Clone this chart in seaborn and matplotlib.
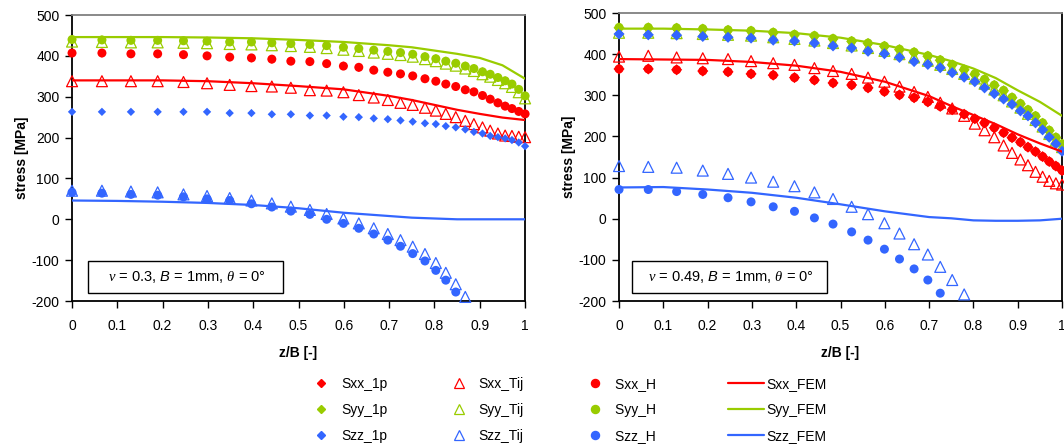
import numpy as np
import matplotlib
matplotlib.use("Agg")
import matplotlib.pyplot as plt
from matplotlib.lines import Line2D
import seaborn as sns

# point positions z/B (same for both panels)
z = [0, 0.066, 0.130, 0.189, 0.246, 0.298, 0.348, 0.396, 0.441, 0.483, 0.525,
     0.562, 0.599, 0.633, 0.666, 0.697, 0.725, 0.752, 0.779, 0.803, 0.825,
     0.847, 0.868, 0.887, 0.906, 0.923, 0.940, 0.956, 0.971, 0.986, 1.0]
fem_z = [0, 0.1, 0.2, 0.3, 0.4, 0.5, 0.6, 0.7, 0.75, 0.8, 0.85, 0.9, 0.95, 1.0]
nan = np.nan

# ---- left panel: nu = 0.3 ----
sxx_1p_l = [406, 406, 405, 404, 402, 400, 397, 394, 391, 388, 385, 381, 376, 371, 366, 360,
            355, 350, 344, 338, 331, 325, 318, 311, 303, 295, 286, 278, 271, 264, 257]
syy_1p_l = [441, 440, 439, 438, 437, 436, 435, 434, 432, 430, 428, 425, 422, 418, 415, 411,
            408, 404, 399, 394, 388, 382, 376, 369, 362, 355, 348, 340, 331, 319, 303]
szz_1p_l = [263, 263, 263, 263, 263, 263, 260, 260, 257, 257, 254, 254, 251, 250, 247, 245,
            242, 239, 235, 233, 228, 225, 220, 214, 210, 204, 201, 198, 194, 188, 179]
sxx_tij_l = [338, 338, 338, 338, 336, 333, 329, 326, 325, 322, 316, 315, 311, 304, 298, 292,
             285, 280, 273, 266, 258, 250, 241, 233, 225, 217, 210, 205, 204, 202, 201]
syy_tij_l = [435, 434, 433, 433, 432, 431, 429, 428, 426, 424, 422, 419, 415, 412, 408, 405,
             402, 398, 392, 387, 381, 376, 369, 363, 355, 349, 341, 333, 324, 311, 296]
szz_tij_l = [70, 70, 68, 66, 61, 57, 52, 46, 39, 31, 23, 13, 2, -10, -22, -36, -51, -67, -85,
             -107, -131, -159, -190, nan, nan, nan, nan, nan, nan, nan, nan]
sxx_h_l = [407, 407, 405, 405, 403, 400, 397, 395, 392, 387, 386, 381, 375, 372, 365, 360,
           356, 351, 344, 338, 331, 325, 317, 312, 303, 294, 285, 277, 271, 264, 258]
syy_h_l = [440, 439, 438, 438, 437, 436, 434, 434, 432, 430, 428, 425, 421, 418, 414, 411,
           408, 404, 398, 393, 387, 382, 375, 369, 361, 355, 347, 339, 331, 318, 302]
szz_h_l = [66, 64, 61, 59, 55, 50, 46, 38, 30, 20, 12, 0, -10, -22, -36, -51, -66, -84, -102,
           -125, -149, -178, nan, nan, nan, nan, nan, nan, nan, nan, nan]
sxx_fem_l = [340, 340, 340, 338, 333, 326, 318, 302, 292, 280, 268, 258, 249, 243]
syy_fem_l = [446, 446, 446, 445, 443, 439, 434, 426, 421, 413, 405, 395, 377, 344]
szz_fem_l = [46, 45, 43, 40, 35, 27, 16, 8, 4, 2, 0, 0, 0, 0]

# ---- right panel: nu = 0.49 ----
sxx_1p_r = [364, 364, 362, 359, 357, 352, 349, 343, 337, 330, 325, 318, 309, 301, 294, 284,
            273, 265, 254, 243, 233, 221, 209, 197, 186, 174, 163, 151, 139, 128, 117]
syy_1p_r = [464, 464, 463, 461, 458, 456, 452, 447, 444, 437, 431, 426, 419, 411, 404, 395,
            385, 374, 362, 351, 338, 324, 311, 294, 279, 264, 249, 232, 214, 197, 181]
szz_1p_r = [449, 447, 446, 443, 441, 439, 434, 432, 427, 420, 415, 407, 401, 392, 382, 375,
            367, 355, 344, 333, 318, 304, 291, 278, 262, 250, 233, 216, 198, 182, 164]
sxx_tij_r = [394, 396, 392, 390, 388, 383, 378, 374, 366, 359, 352, 343, 333, 321, 308, 296,
             282, 268, 250, 231, 215, 198, 178, 160, 144, 130, 114, 102, 92, 86, 83]
syy_tij_r = [452, 452, 451, 449, 447, 445, 441, 437, 433, 427, 421, 415, 408, 400, 392, 384,
             374, 364, 352, 341, 328, 314, 300, 285, 270, 255, 240, 224, 206, 190, 174]
szz_tij_r = [128, 126, 124, 117, 109, 100, 90, 79, 64, 48, 29, 11, -11, -36, -62, -87, -117,
             -149, -184, nan, nan, nan, nan, nan, nan, nan, nan, nan, nan, nan, nan]
sxx_h_r = [364, 364, 362, 359, 357, 352, 349, 343, 337, 330, 325, 318, 309, 301, 294, 284,
           273, 265, 254, 243, 233, 221, 209, 197, 186, 174, 163, 151, 139, 128, 117]
syy_h_r = [465, 465, 464, 462, 459, 457, 453, 448, 445, 438, 432, 427, 420, 412, 405, 396,
           386, 375, 363, 352, 339, 325, 312, 295, 280, 265, 250, 233, 215, 198, 182]
szz_h_r = [71, 71, 66, 59, 51, 41, 29, 18, 2, -13, -32, -52, -74, -98, -122, -149, -181,
           nan, nan, nan, nan, nan, nan, nan, nan, nan, nan, nan, nan, nan, nan]
sxx_fem_r = [388, 387, 386, 381, 372, 357, 333, 298, 274, 252, 230, 205, 183, 163]
syy_fem_r = [462, 462, 460, 457, 451, 440, 422, 398, 383, 365, 342, 312, 284, 250]
szz_fem_r = [76, 77, 71, 63, 51, 35, 18, 4, 1, -4, -5, -5, -4, 0]

red, green, blue = "#FF0000", "#99CC00", "#3366FF"
comps = ["Sxx", "Syy", "Szz"]
cols = [red, green, blue]

sns.set_style("ticks")
plt.rcParams["font.family"] = ["Liberation Sans", "DejaVu Sans"]
plt.rcParams["mathtext.fontset"] = "custom"
plt.rcParams["mathtext.it"] = "Liberation Serif:italic"
plt.rcParams["mathtext.sf"] = "Liberation Sans:italic"
plt.rcParams["mathtext.rm"] = "Liberation Sans"
plt.rcParams["axes.unicode_minus"] = False
plt.rcParams["text.color"] = "black"
plt.rcParams["axes.labelcolor"] = "black"
plt.rcParams["xtick.color"] = "black"
plt.rcParams["ytick.color"] = "black"

fig = plt.figure(figsize=(10.64, 4.47), dpi=100)
ax_l = fig.add_axes([0.0677, 0.3266, 0.4258, 0.6398])
ax_r = fig.add_axes([0.5818, 0.3266, 0.4164, 0.6443])


def draw_panel(ax, p1, tij, hh, fem, dsize, label):
    for c, y in zip(cols, tij):
        sns.scatterplot(x=z, y=y, ax=ax, marker="^", s=62, color=c, facecolor="none",
                        edgecolor=c, linewidth=0.9, clip_on=False, zorder=3)
    for c, y in zip(cols, hh):
        sns.scatterplot(x=z, y=y, ax=ax, marker="o", s=42, color=c, edgecolor="none",
                        clip_on=False, zorder=4)
    for c, y in zip(cols, p1):
        sns.scatterplot(x=z, y=y, ax=ax, marker="D", s=dsize, color=c, edgecolor="none",
                        clip_on=False, zorder=5)
    for c, y in zip(cols, fem):
        sns.lineplot(x=fem_z, y=y, ax=ax, color=c, linewidth=1.6, zorder=6)

    ax.set_xlim(0, 1)
    ax.set_ylim(-200, 500)
    ax.set_xticks(np.arange(0, 1.01, 0.1))
    ax.set_xticklabels(["0", "0.1", "0.2", "0.3", "0.4", "0.5", "0.6", "0.7", "0.8", "0.9", "1"])
    ax.set_yticks(range(-200, 501, 100))
    ax.tick_params(direction="out", length=5, width=1, labelsize=10, pad=4)
    ax.tick_params(axis="x", pad=8)
    for s in ["left", "bottom", "right"]:
        ax.spines[s].set_visible(True)
        ax.spines[s].set_color("black")
        ax.spines[s].set_linewidth(1.3)
    ax.spines["top"].set_visible(True)
    ax.spines["top"].set_color("#808080")
    ax.spines["top"].set_linewidth(1.3)
    ax.set_xlabel("z/B [-]", fontsize=10, fontweight="bold", labelpad=9)
    ax.set_ylabel("stress [MPa]", fontsize=10, fontweight="bold", labelpad=2)
    ax.text(0.25, 0.085, label, transform=ax.transAxes, ha="center", va="center",
            fontsize=10.5, zorder=10,
            bbox=dict(boxstyle="square,pad=0.55", fc="white", ec="black", lw=1))


draw_panel(ax_l, [sxx_1p_l, syy_1p_l, szz_1p_l], [sxx_tij_l, syy_tij_l, szz_tij_l],
           [sxx_h_l, syy_h_l, szz_h_l], [sxx_fem_l, syy_fem_l, szz_fem_l], 18,
           r"   $\nu$ = 0.3, $\mathsf{B}$ = 1mm, $\theta$ = 0°   ")
draw_panel(ax_r, [sxx_1p_r, syy_1p_r, szz_1p_r], [sxx_tij_r, syy_tij_r, szz_tij_r],
           [sxx_h_r, syy_h_r, szz_h_r], [sxx_fem_r, syy_fem_r, szz_fem_r], 32,
           r"  $\nu$ = 0.49, $\mathsf{B}$ = 1mm, $\theta$ = 0°  ")

# legend
handles, labels = [], []
for m, suf in [("D", "1p"), ("^", "Tij"), ("o", "H     "), ("-", "FEM")]:
    for name, c in zip(comps, cols):
        if m == "-":
            h = Line2D([], [], color=c, linewidth=1.6)
        elif m == "^":
            h = Line2D([], [], marker="^", linestyle="", markersize=6.5, markerfacecolor="none",
                       markeredgecolor=c, markeredgewidth=0.9)
        elif m == "D":
            h = Line2D([], [], marker="D", linestyle="", markersize=4.2, color=c)
        else:
            h = Line2D([], [], marker="o", linestyle="", markersize=5.8, color=c)
        handles.append(h)
        labels.append(f"{name}_{suf}")

fig.legend(handles, labels, ncol=4, loc="upper center", bbox_to_anchor=(0.531, 0.172),
           frameon=False, fontsize=10, handlelength=2.6, handletextpad=0.15,
           columnspacing=3.8, labelspacing=0.85, borderpad=0)

fig.savefig("out.png", dpi=100)
